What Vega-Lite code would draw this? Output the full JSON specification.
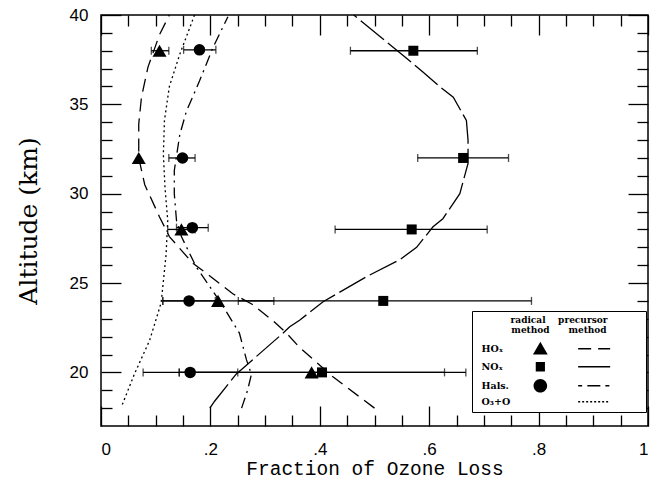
{
  "$schema": "https://vega.github.io/schema/vega-lite/v6.json",
  "width": 547,
  "height": 411,
  "autosize": {"type": "none"},
  "padding": {"left": 101, "top": 15, "right": 6, "bottom": 55},
  "background": "white",
  "config": {
    "view": {"stroke": "black", "strokeWidth": 1.5},
    "axis": {"domain": false, "grid": false, "labelFont": "Liberation Sans", "labelFontSize": 17, "labelColor": "black", "tickColor": "black", "tickWidth": 1.3, "titleColor": "black", "titleFontWeight": "normal"}
  },
  "datasets": {
    "curves": [
      {"species": "HOₓ", "x": 0.500, "alt": 18.0}, {"species": "HOₓ", "x": 0.424, "alt": 19.75}, {"species": "HOₓ", "x": 0.363, "alt": 21.4}, {"species": "HOₓ", "x": 0.339, "alt": 22.2}, {"species": "HOₓ", "x": 0.314, "alt": 22.9}, {"species": "HOₓ", "x": 0.277, "alt": 23.8}, {"species": "HOₓ", "x": 0.241, "alt": 24.4}, {"species": "HOₓ", "x": 0.199, "alt": 25.4}, {"species": "HOₓ", "x": 0.168, "alt": 26.1}, {"species": "HOₓ", "x": 0.125, "alt": 27.6}, {"species": "HOₓ", "x": 0.107, "alt": 28.7}, {"species": "HOₓ", "x": 0.080, "alt": 30.5}, {"species": "HOₓ", "x": 0.069, "alt": 32.0}, {"species": "HOₓ", "x": 0.069, "alt": 33.9}, {"species": "HOₓ", "x": 0.074, "alt": 35.4}, {"species": "HOₓ", "x": 0.086, "alt": 37.1}, {"species": "HOₓ", "x": 0.107, "alt": 38.9}, {"species": "HOₓ", "x": 0.125, "alt": 40.0},
      {"species": "NOₓ", "x": 0.199, "alt": 18.0}, {"species": "NOₓ", "x": 0.208, "alt": 18.4}, {"species": "NOₓ", "x": 0.247, "alt": 19.9}, {"species": "NOₓ", "x": 0.290, "alt": 21.05}, {"species": "NOₓ", "x": 0.333, "alt": 22.2}, {"species": "NOₓ", "x": 0.345, "alt": 22.55}, {"species": "NOₓ", "x": 0.363, "alt": 22.92}, {"species": "NOₓ", "x": 0.406, "alt": 23.95}, {"species": "NOₓ", "x": 0.485, "alt": 25.35}, {"species": "NOₓ", "x": 0.546, "alt": 26.3}, {"species": "NOₓ", "x": 0.577, "alt": 27.0}, {"species": "NOₓ", "x": 0.607, "alt": 28.15}, {"species": "NOₓ", "x": 0.625, "alt": 28.6}, {"species": "NOₓ", "x": 0.656, "alt": 30.0}, {"species": "NOₓ", "x": 0.671, "alt": 31.7}, {"species": "NOₓ", "x": 0.671, "alt": 33.0}, {"species": "NOₓ", "x": 0.668, "alt": 34.1}, {"species": "NOₓ", "x": 0.644, "alt": 35.4}, {"species": "NOₓ", "x": 0.619, "alt": 36.0}, {"species": "NOₓ", "x": 0.589, "alt": 36.8}, {"species": "NOₓ", "x": 0.558, "alt": 37.6}, {"species": "NOₓ", "x": 0.510, "alt": 38.8}, {"species": "NOₓ", "x": 0.462, "alt": 40.0},
      {"species": "Hals.", "x": 0.257, "alt": 18.0}, {"species": "Hals.", "x": 0.268, "alt": 19.0}, {"species": "Hals.", "x": 0.275, "alt": 19.9}, {"species": "Hals.", "x": 0.266, "alt": 20.7}, {"species": "Hals.", "x": 0.253, "alt": 22.2}, {"species": "Hals.", "x": 0.223, "alt": 23.7}, {"species": "Hals.", "x": 0.199, "alt": 24.8}, {"species": "Hals.", "x": 0.174, "alt": 25.9}, {"species": "Hals.", "x": 0.147, "alt": 27.6}, {"species": "Hals.", "x": 0.138, "alt": 28.5}, {"species": "Hals.", "x": 0.134, "alt": 30.0}, {"species": "Hals.", "x": 0.134, "alt": 31.3}, {"species": "Hals.", "x": 0.144, "alt": 33.3}, {"species": "Hals.", "x": 0.156, "alt": 34.6}, {"species": "Hals.", "x": 0.180, "alt": 36.3}, {"species": "Hals.", "x": 0.205, "alt": 38.2}, {"species": "Hals.", "x": 0.232, "alt": 39.9},
      {"species": "O₃+O", "x": 0.039, "alt": 18.2}, {"species": "O₃+O", "x": 0.061, "alt": 19.9}, {"species": "O₃+O", "x": 0.089, "alt": 21.8}, {"species": "O₃+O", "x": 0.110, "alt": 23.9}, {"species": "O₃+O", "x": 0.119, "alt": 26.6}, {"species": "O₃+O", "x": 0.122, "alt": 28.5}, {"species": "O₃+O", "x": 0.117, "alt": 30.35}, {"species": "O₃+O", "x": 0.114, "alt": 32.2}, {"species": "O₃+O", "x": 0.116, "alt": 34.1}, {"species": "O₃+O", "x": 0.125, "alt": 36.0}, {"species": "O₃+O", "x": 0.144, "alt": 37.8}, {"species": "O₃+O", "x": 0.171, "alt": 40.0}
    ],
    "points": [
      {"species": "HOₓ", "x": 0.107, "alt": 38, "lo": 0.092, "hi": 0.124},
      {"species": "HOₓ", "x": 0.069, "alt": 32, "lo": null, "hi": null},
      {"species": "HOₓ", "x": 0.147, "alt": 28, "lo": 0.122, "hi": 0.172},
      {"species": "HOₓ", "x": 0.214, "alt": 24, "lo": 0.113, "hi": 0.316},
      {"species": "HOₓ", "x": 0.385, "alt": 20, "lo": 0.143, "hi": 0.628},
      {"species": "NOₓ", "x": 0.571, "alt": 38, "lo": 0.456, "hi": 0.688},
      {"species": "NOₓ", "x": 0.662, "alt": 32, "lo": 0.579, "hi": 0.745},
      {"species": "NOₓ", "x": 0.568, "alt": 28, "lo": 0.428, "hi": 0.706},
      {"species": "NOₓ", "x": 0.516, "alt": 24, "lo": 0.251, "hi": 0.787},
      {"species": "NOₓ", "x": 0.404, "alt": 20, "lo": 0.143, "hi": 0.667},
      {"species": "Hals.", "x": 0.180, "alt": 38.05, "lo": 0.151, "hi": 0.210},
      {"species": "Hals.", "x": 0.149, "alt": 32, "lo": 0.124, "hi": 0.172},
      {"species": "Hals.", "x": 0.167, "alt": 28.1, "lo": 0.138, "hi": 0.196},
      {"species": "Hals.", "x": 0.161, "alt": 24, "lo": 0.113, "hi": 0.209},
      {"species": "Hals.", "x": 0.163, "alt": 20, "lo": 0.077, "hi": 0.250}
    ]
  },
  "layer": [
    {
      "data": {"name": "curves"},
      "mark": {"type": "line", "color": "black", "strokeWidth": 1.3},
      "encoding": {
        "x": {"field": "x", "type": "quantitative", "scale": {"domain": [0, 1], "nice": false, "zero": false},
          "axis": {"orient": "bottom", "values": [0, 0.2, 0.4, 0.6, 0.8, 1], "tickSize": -20, "labelPadding": 35,
            "labelExpr": "datum.value == 0 ? '0' : datum.value == 1 ? '1' : replace(format(datum.value, '.1f'), '0.', '.')",
            "title": "Fraction of Ozone Loss", "titleFont": "Liberation Mono", "titleFontSize": 19.5, "titlePadding": 2}},
        "y": {"field": "alt", "type": "quantitative", "scale": {"domain": [17, 40], "nice": false, "zero": false},
          "axis": {"orient": "left", "values": [20, 25, 30, 35, 40], "tickSize": -20, "labelPadding": 33,
            "title": "Altitude (km)", "titleFont": "DejaVu Serif", "titleFontSize": 25, "titlePadding": 28}},
        "order": {"field": "alt", "type": "quantitative"},
        "strokeDash": {"field": "species", "type": "nominal",
          "scale": {"domain": ["HOₓ", "NOₓ", "Hals.", "O₃+O"], "range": [[13, 7], [30, 5], [11, 5, 2, 5], [2, 3]]},
          "legend": null}
      }
    },
    {
      "data": {"name": "points"},
      "transform": [{"filter": "datum.lo != null"}],
      "mark": {"type": "rule", "color": "black", "strokeWidth": 1.3},
      "encoding": {
        "x": {"field": "lo", "type": "quantitative", "scale": {"domain": [0, 1], "nice": false, "zero": false},
          "axis": {"orient": "top", "values": [0, 0.2, 0.4, 0.6, 0.8, 1], "tickSize": -20, "labels": false, "title": null}},
        "x2": {"field": "hi"},
        "y": {"field": "alt", "type": "quantitative", "scale": {"domain": [17, 40], "nice": false, "zero": false},
          "axis": {"orient": "right", "values": [20, 25, 30, 35, 40], "tickSize": -20, "labels": false, "title": null}}
      }
    },
    {
      "data": {"name": "points"},
      "transform": [{"filter": "datum.lo != null"}, {"fold": ["lo", "hi"], "as": ["end", "xv"]}],
      "mark": {"type": "tick", "orient": "vertical", "color": "black", "size": 8, "thickness": 1.3},
      "encoding": {
        "x": {"field": "xv", "type": "quantitative", "scale": {"domain": [0, 1], "nice": false, "zero": false}, "axis": null},
        "y": {"field": "alt", "type": "quantitative", "scale": {"domain": [17, 40], "nice": false, "zero": false}, "axis": null}
      }
    },
    {
      "data": {"name": "points"},
      "mark": {"type": "point", "filled": true, "color": "black", "opacity": 1},
      "encoding": {
        "x": {"field": "x", "type": "quantitative", "scale": {"domain": [0, 1], "nice": false, "zero": false},
          "axis": {"orient": "top", "values": [0.05, 0.1, 0.15, 0.25, 0.3, 0.35, 0.45, 0.5, 0.55, 0.65, 0.7, 0.75, 0.85, 0.9, 0.95], "tickSize": -11, "labels": false, "title": null}},
        "y": {"field": "alt", "type": "quantitative", "scale": {"domain": [17, 40], "nice": false, "zero": false},
          "axis": {"orient": "right", "values": [18, 19, 21, 22, 23, 24, 26, 27, 28, 29, 31, 32, 33, 34, 36, 37, 38, 39], "tickSize": -11, "labels": false, "title": null}},
        "shape": {"field": "species", "type": "nominal", "scale": {"domain": ["HOₓ", "NOₓ", "Hals."], "range": ["triangle-up", "square", "circle"]}, "legend": null},
        "size": {"field": "species", "type": "nominal", "scale": {"type": "ordinal", "domain": ["HOₓ", "NOₓ", "Hals."], "range": [196, 100, 133]}, "legend": null}
      }
    },
    {
      "data": {"name": "points"},
      "mark": {"type": "point", "filled": true, "fill": "black", "opacity": 0},
      "encoding": {
        "x": {"field": "x", "type": "quantitative", "scale": {"domain": [0, 1], "nice": false, "zero": false},
          "axis": {"orient": "bottom", "values": [0.05, 0.1, 0.15, 0.25, 0.3, 0.35, 0.45, 0.5, 0.55, 0.65, 0.7, 0.75, 0.85, 0.9, 0.95], "tickSize": -11, "labels": false, "title": null}},
        "y": {"field": "alt", "type": "quantitative", "scale": {"domain": [17, 40], "nice": false, "zero": false},
          "axis": {"orient": "left", "values": [18, 19, 21, 22, 23, 24, 26, 27, 28, 29, 31, 32, 33, 34, 36, 37, 38, 39], "tickSize": -11, "labels": false, "title": null}},
        "shape": {"field": "species", "type": "nominal",
          "scale": {"domain": ["HOₓ", "NOₓ", "Hals.", "O₃+O"],
            "range": [
              "M-2,0M78,0M29.3,-3.5L33,2.9L25.6,2.9ZM48.2,-0.35H54.7V0.35H48.2ZM58.2,-0.35H64.2V0.35H58.2Z",
              "M-2,0M78,0M27,-2.4H31.6V2.4H27ZM48.2,-0.35H64.2V0.35H48.2Z",
              "M-2,0M78,0M25.9,0A3.4,3.4 0 1,0 32.7,0A3.4,3.4 0 1,0 25.9,0ZM48.2,-0.35H50.2V0.35H48.2ZM52.8,-0.35H59.3V0.35H52.8ZM61.8,-0.35H63.8V0.35H61.8Z",
              "M-2,0M78,0M48.2,-0.35H49.2V0.35H48.2ZM50.2,-0.35H51.2V0.35H50.2ZM52.2,-0.35H53.2V0.35H52.2ZM54.2,-0.35H55.2V0.35H54.2ZM56.2,-0.35H57.2V0.35H56.2ZM58.2,-0.35H59.2V0.35H58.2ZM60.2,-0.35H61.2V0.35H60.2ZM62.2,-0.35H63.2V0.35H62.2Z"
            ]},
          "legend": {
            "orient": "none", "legendX": 371, "legendY": 296,
            "title": ["\u00a0\u00a0\u00a0\u00a0\u00a0\u00a0\u00a0\u00a0\u00a0\u00a0\u00a0\u00a0\u00a0\u00a0radical\u00a0\u00a0\u00a0\u00a0precursor", "\u00a0\u00a0\u00a0\u00a0\u00a0\u00a0\u00a0\u00a0\u00a0\u00a0\u00a0\u00a0\u00a0\u00a0method\u00a0\u00a0\u00a0\u00a0\u00a0\u00a0method"],
            "titleFont": "DejaVu Serif", "titleFontSize": 9, "titleFontWeight": "bold", "titleColor": "black",
            "titleAnchor": "middle", "titleAlign": "center", "titleLineHeight": 10, "titlePadding": 9,
            "labelFont": "DejaVu Serif", "labelFontSize": 9.5, "labelFontWeight": "bold", "labelColor": "black",
            "symbolSize": 16, "labelOffset": -5, "padding": 5, "rowPadding": 0,
            "symbolOpacity": 1, "symbolFillColor": "black",
            "strokeColor": "black", "fillColor": "white",
            "encode": {
              "symbols": {"fill": {"value": "black"}, "opacity": {"value": 1}},
              "title": {"dx": {"value": 8}}
            }
          }}
      }
    }
  ],
  "resolve": {"axis": {"x": "independent", "y": "independent"}, "scale": {"shape": "independent", "size": "independent"}}
}
